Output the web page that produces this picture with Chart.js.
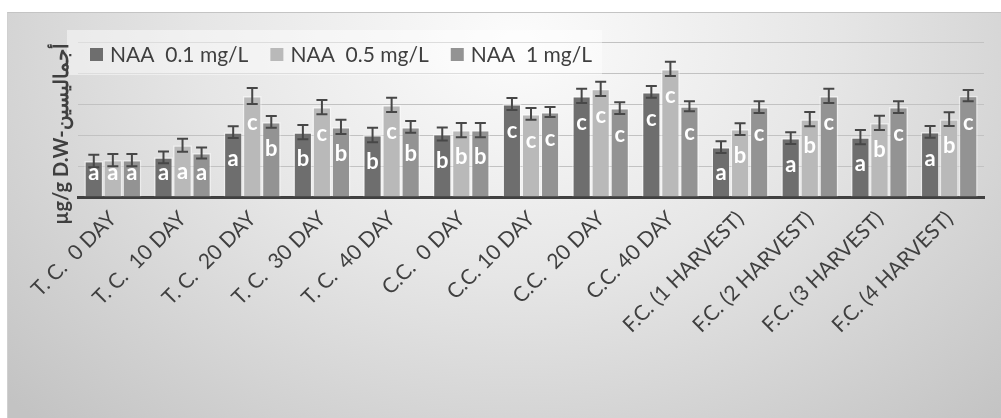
<!DOCTYPE html>
<html>
<head>
<meta charset="utf-8">
<script src="https://cdn.jsdelivr.net/npm/chart.js@4.4.1/dist/chart.umd.min.js"></script>
<style>
  html, body { margin: 0; padding: 0; background: #fff; }
  #wrap { position: relative; width: 1001px; height: 418px; overflow: hidden; }
  #bg {
    position: absolute; left: 7px; top: 12px; width: 994px; height: 406px;
    border-top: 1px solid #c4c4c4; border-left: 1px solid #d0d0d0;
    background: radial-gradient(ellipse 700px 520px at 510px 30px, #fcfcfc 0%, #e6e6e6 45%, #c3c3c3 100%);
  }
  canvas { position: absolute; left: 0; top: 0; }
</style>
</head>
<body>
<div id="wrap">
  <div id="bg"></div>
  <canvas id="chart" width="1001" height="418"></canvas>
</div>
<script>
const CATEGORIES = [
  "T. C.  0 DAY", "T. C.  10 DAY", "T. C.  20 DAY", "T. C.  30 DAY", "T. C.  40 DAY",
  "C.C.  0 DAY", "C.C. 10 DAY", "C.C.  20 DAY", "C.C. 40 DAY",
  "F.C. (1 HARVEST)", "F.C. (2 HARVEST)", "F.C. (3 HARVEST)", "F.C. (4 HARVEST)",
];
const SERIES_NAMES = ["NAA  0.1 mg/L", "NAA  0.5 mg/L", "NAA  1 mg/L"];
const COLORS = ["#6e6e6e", "#b9b9b9", "#939393"];

const NAA_01 = [11.6, 12.8, 20.9, 20.9, 20.0, 20.3, 30.0, 32.6, 33.9, 16.1, 19.0, 19.3, 21.0];
const NAA_05 = [11.9, 16.7, 32.6, 29.0, 29.7, 21.6, 26.8, 34.9, 41.3, 21.9, 25.1, 23.9, 25.1];
const NAA_1 = [11.9, 14.2, 24.2, 22.6, 22.6, 21.6, 27.4, 28.7, 29.3, 29.0, 32.6, 29.0, 32.7];

const ERR_01 = [2.0, 1.9, 1.9, 2.3, 2.3, 2.1, 1.9, 2.3, 1.9, 1.9, 1.9, 2.3, 1.9];
const ERR_05 = [2.0, 2.1, 2.6, 2.3, 2.3, 2.3, 1.9, 2.3, 2.3, 1.9, 2.3, 2.3, 2.2];
const ERR_1 = [2.0, 1.8, 1.9, 2.3, 1.9, 2.3, 1.6, 1.9, 1.6, 1.9, 2.3, 1.9, 1.8];

const LETTERS_01 = ["a", "a", "a", "b", "b", "b", "c", "c", "c", "a", "a", "a", "a"];
const LETTERS_05 = ["a", "a", "c", "c", "c", "b", "c", "c", "c", "b", "b", "b", "b"];
const LETTERS_1 = ["a", "a", "b", "b", "b", "b", "c", "c", "c", "c", "c", "c", "c"];

const Y_MAX = 50;
const Y_STEP = 10;
const Y_TITLE = "µg/g D.W-أجماليسين";

const ERRORS = [ERR_01, ERR_05, ERR_1];
const LETTERS = [LETTERS_01, LETTERS_05, LETTERS_1];
const TEXT = "#3f3f3f";
const FONT = "Lato, 'Open Sans', sans-serif";

// error bars + significance letters
const barExtras = {
  id: "barExtras",
  afterDatasetsDraw(chart) {
    const { ctx } = chart;
    const y = chart.scales.y;
    ctx.save();
    chart.data.datasets.forEach((ds, i) => {
      const meta = chart.getDatasetMeta(i);
      meta.data.forEach((bar, j) => {
        const v = ds.data[j];
        const e = ERRORS[i][j];
        const yTop = y.getPixelForValue(v + e);
        const yBot = y.getPixelForValue(v - e);
        ctx.strokeStyle = "#474747";
        ctx.lineWidth = 2;
        ctx.beginPath();
        ctx.moveTo(bar.x, yTop);
        ctx.lineTo(bar.x, yBot);
        ctx.moveTo(bar.x - 5.5, yTop);
        ctx.lineTo(bar.x + 5.5, yTop);
        ctx.moveTo(bar.x - 5.5, yBot);
        ctx.lineTo(bar.x + 5.5, yBot);
        ctx.stroke();

        ctx.fillStyle = "#ffffff";
        ctx.font = `bold 22px ${FONT}`;
        ctx.textAlign = "center";
        ctx.textBaseline = "alphabetic";
        const ly = Math.min(bar.y + 34, bar.base - 17);
        ctx.fillText(LETTERS[i][j], bar.x, ly);
      });
    });
    ctx.restore();
  },
};

// legend box, rotated category labels and rotated y title
const decorations = {
  id: "decorations",
  afterDraw(chart) {
    const { ctx } = chart;
    ctx.save();
    ctx.fillStyle = "rgba(255,255,255,0.45)";
    ctx.fillRect(67, 30, 535, 45);

    ctx.font = `21px ${FONT}`;
    ctx.textBaseline = "middle";
    ctx.textAlign = "left";
    let x = 90;
    SERIES_NAMES.forEach((name, i) => {
      ctx.fillStyle = COLORS[i];
      ctx.fillRect(x, 48, 13, 13);
      ctx.fillStyle = TEXT;
      ctx.fillText(name, x + 20, 55);
      x += 20 + ctx.measureText(name).width + 22;
    });

    const xs = chart.scales.x;
    ctx.font = `21px ${FONT}`;
    ctx.textAlign = "right";
    ctx.textBaseline = "alphabetic";
    ctx.fillStyle = TEXT;
    CATEGORIES.forEach((label, i) => {
      ctx.save();
      ctx.translate(xs.getPixelForTick(i) + 5, 220);
      ctx.rotate(-Math.PI / 4);
      ctx.fillText(label, 0, 0);
      ctx.restore();
    });

    ctx.translate(68, 134);
    ctx.rotate(-Math.PI / 2);
    ctx.font = `bold 20px ${FONT}`;
    ctx.textAlign = "center";
    ctx.fillText(Y_TITLE, 0, 0);
    ctx.restore();
  },
};

function makeDataset(label, data, color) {
  return {
    label,
    data,
    backgroundColor: color,
    borderColor: "rgba(255,255,255,0.45)",
    borderWidth: 1.5,
    categoryPercentage: 0.82,
    barPercentage: 1.0,
  };
}

new Chart(document.getElementById("chart"), {
  type: "bar",
  data: {
    labels: CATEGORIES,
    datasets: [
      makeDataset(SERIES_NAMES[0], NAA_01, COLORS[0]),
      makeDataset(SERIES_NAMES[1], NAA_05, COLORS[1]),
      makeDataset(SERIES_NAMES[2], NAA_1, COLORS[2]),
    ],
  },
  options: {
    responsive: false,
    animation: false,
    layout: { padding: { left: 78, right: 17, top: 42, bottom: 0 } },
    plugins: { legend: { display: false }, tooltip: { enabled: false } },
    scales: {
      x: {
        grid: { display: false, drawTicks: false },
        border: { color: "#404040", width: 3 },
        ticks: { display: false },
        afterFit(scale) {
          scale.height = 418 - 197;
        },
      },
      y: {
        min: 0,
        max: Y_MAX,
        ticks: { display: false, stepSize: Y_STEP },
        grid: { color: "#c2c2c2", lineWidth: 1, drawTicks: false },
        border: { display: false },
      },
    },
  },
  plugins: [barExtras, decorations],
});
</script>
</body>
</html>
